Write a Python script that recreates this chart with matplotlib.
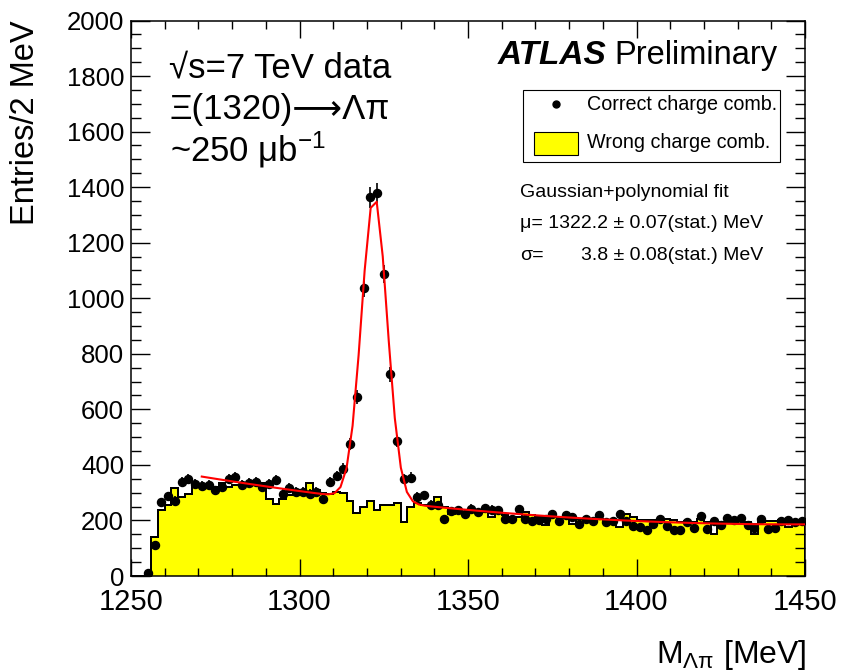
import numpy as np
import matplotlib
matplotlib.use("Agg")
import matplotlib.pyplot as plt
from matplotlib.ticker import MultipleLocator
from matplotlib.patches import Rectangle
from matplotlib.lines import Line2D

plt.rcParams['font.family'] = ['Liberation Sans', 'DejaVu Sans']
plt.rcParams['mathtext.fontset'] = 'custom'
plt.rcParams['mathtext.rm'] = 'Liberation Sans'
plt.rcParams['mathtext.it'] = 'Liberation Sans:italic'

# M(Lambda pi) histogram, 2 MeV bins from 1250 to 1450
bin_edges = np.arange(1250, 1452, 2)

# correct charge combination (data points)
correct_counts = [0, 0, 12, 112, 266, 287, 270, 338, 350, 332,
                  323, 326, 308, 322, 350, 356, 326, 334, 338, 320,
                  332, 346, 296, 317, 302, 302, 296, 302, 278, 338,
                  360, 386, 474, 645, 1038, 1363, 1379, 1088, 726, 485,
                  350, 354, 284, 290, 257, 254, 204, 234, 237, 222,
                  242, 230, 245, 239, 237, 204, 204, 240, 204, 198,
                  203, 207, 224, 198, 219, 212, 188, 205, 197, 219,
                  195, 198, 222, 197, 179, 176, 164, 188, 207, 181,
                  164, 167, 194, 173, 215, 171, 197, 182, 210, 201,
                  210, 182, 173, 205, 170, 173, 197, 203, 194, 197]

# wrong charge combination (yellow histogram)
wrong_fill = [0, 0, 0, 139, 236, 254, 316, 284, 296, 320,
              320, 320, 320, 336, 322, 326, 326, 326, 326, 336,
              278, 260, 278, 290, 292, 308, 334, 308, 298, 296,
              302, 300, 270, 226, 250, 270, 236, 257, 257, 262,
              195, 247, 262, 256, 256, 285, 248, 222, 237, 230,
              237, 230, 230, 214, 226, 218, 214, 214, 232, 218,
              212, 182, 212, 212, 212, 188, 205, 210, 202, 204,
              202, 202, 178, 222, 212, 200, 200, 200, 200, 204,
              200, 196, 197, 196, 205, 196, 150, 194, 194, 194,
              205, 194, 152, 194, 197, 198, 200, 176, 200, 202]
wrong_line = [0, 0, 0, 139, 236, 254, 316, 284, 296, 320,
              320, 320, 320, 336, 322, 326, 326, 326, 326, 336,
              278, 260, 278, 290, 292, 308, 334, 308, 298, 296,
              302, 300, 270, 226, 250, 270, 236, 257, 257, 262,
              195, 247, 262, 256, 256, 285, 248, 235, 237, 230,
              237, 230, 230, 230, 226, 218, 214, 214, 232, 218,
              212, 212, 212, 212, 212, 210, 205, 210, 202, 204,
              202, 202, 202, 222, 212, 200, 200, 200, 200, 204,
              200, 196, 197, 196, 205, 196, 188, 194, 194, 194,
              205, 194, 188, 194, 197, 198, 200, 200, 200, 202]

# Gaussian + polynomial fit parameters
fit_mu = 1322.2
fit_sigma = 3.8
fit_amp = 1095
bg_coef = [238, -1.078, 0.00558]   # polynomial in (m - 1350)
fit_range = (1271, 1450)

W, H = 845, 671
def fx(x):
    return x / W
def fy(y):
    return 1 - y / H

fig = plt.figure(figsize=(W / 100, H / 100), dpi=100)
ax = fig.add_axes([fx(131), fy(576), fx(805) - fx(131), fy(20.5) - fy(576)])

ax.stairs(wrong_fill, bin_edges, fill=True, color='#ffff00', lw=0)
ax.stairs(wrong_fill, bin_edges, color='black', lw=1.4)
ax.stairs(wrong_line, bin_edges, color='black', lw=1.4)

centers = 0.5 * (bin_edges[:-1] + bin_edges[1:])
counts = np.array(correct_counts, dtype=float)
ok = counts > 0
ax.errorbar(centers[ok], counts[ok], yerr=np.sqrt(counts[ok]), fmt='o', ms=5.8,
            color='black', elinewidth=1.2, capsize=0, zorder=4)

m = np.linspace(fit_range[0], fit_range[1], 101)
t = m - 1350
fit = (fit_amp * np.exp(-0.5 * ((m - fit_mu) / fit_sigma) ** 2)
       + bg_coef[0] + bg_coef[1] * t + bg_coef[2] * t ** 2)
ax.plot(m, fit, color='red', lw=1.5, zorder=5)

ax.set_xlim(1250, 1450)
ax.set_ylim(0, 2000)
ax.xaxis.set_major_locator(MultipleLocator(50))
ax.xaxis.set_minor_locator(MultipleLocator(10))
ax.yaxis.set_major_locator(MultipleLocator(200))
ax.yaxis.set_minor_locator(MultipleLocator(50))
ax.tick_params(which='both', direction='in', top=True, right=True, width=1.0)
ax.tick_params(axis='y', which='major', length=14, pad=5, labelsize=18.5)
ax.tick_params(axis='y', which='minor', length=7)
ax.tick_params(axis='x', which='major', length=12, pad=8.5, labelsize=21)
ax.tick_params(axis='x', which='minor', length=6)
for s in ax.spines.values():
    s.set_linewidth(1.1)

fig.text(fx(26), fy(20), 'Entries/2 MeV', rotation=90, ha='center', va='top', fontsize=23.5)
fig.text(fx(806), fy(663), r'M$_{\mathrm{Λπ}}$ [MeV]', ha='right', va='baseline', fontsize=23)

fig.text(fx(169), fy(68), '√s=7 TeV data', ha='left', va='center', fontsize=25)
fig.text(fx(170), fy(109), 'Ξ(1320)⟶Λπ', ha='left', va='center', fontsize=25)
fig.text(fx(170), fy(150), r'~250 μb$^{\mathrm{-1}}$', ha='left', va='center', fontsize=25)

fig.text(fx(498), fy(64), 'ATLAS', ha='left', va='baseline', fontsize=24,
         weight='bold', style='italic')
fig.text(fx(614), fy(64), 'Preliminary', ha='left', va='baseline', fontsize=23.5)

# legend box
fig.patches.append(Rectangle((fx(523), fy(162)), fx(780) - fx(523), fy(90) - fy(162),
                             transform=fig.transFigure, facecolor='white',
                             edgecolor='black', lw=0.8))
fig.lines.append(Line2D([fx(556)], [fy(104)], transform=fig.transFigure,
                        marker='o', ms=5, color='black'))
fig.patches.append(Rectangle((fx(534), fy(155)), fx(578) - fx(534), fy(132) - fy(155),
                             transform=fig.transFigure, facecolor='#ffff00',
                             edgecolor='black', lw=0.8))
fig.text(fx(587), fy(104), 'Correct charge comb.', ha='left', va='center', fontsize=14.2)
fig.text(fx(587), fy(143), 'Wrong charge comb.', ha='left', va='center', fontsize=14.2)

fig.text(fx(520), fy(192), 'Gaussian+polynomial fit', ha='left', va='center', fontsize=14)
fig.text(fx(520), fy(224), 'μ= 1322.2 ± 0.07(stat.) MeV', ha='left', va='center', fontsize=14)
fig.text(fx(520), fy(256), 'σ=', ha='left', va='center', fontsize=14)
fig.text(fx(763), fy(256), '3.8 ± 0.08(stat.) MeV', ha='right', va='center', fontsize=14)

fig.savefig('out.png', dpi=100)
